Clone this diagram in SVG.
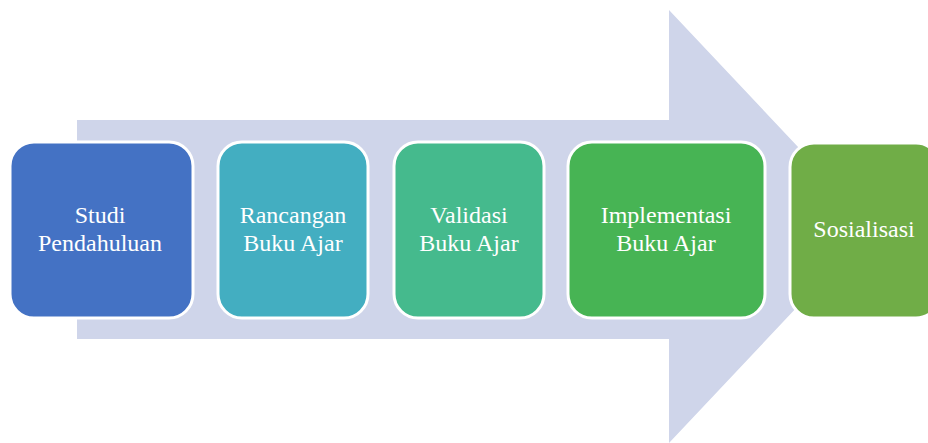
<svg xmlns="http://www.w3.org/2000/svg" width="928" height="443" viewBox="0 0 928 443">
<style>
.box{stroke:#fff;stroke-width:3}
.t{font-family:"Liberation Serif","Times New Roman",serif;font-size:24px;fill:#fff;text-anchor:middle}
</style>
<rect width="928" height="443" fill="#fff"/>
<g id="connectors">
<polygon points="77,120 669,120 669,10 873,226.5 669,443 669,339 77,339" fill="#CFD5EA"/>
</g>
<g id="n1"><rect class="box" x="10" y="142" width="183" height="176" rx="24" fill="#4472C4"/><text class="t" x="100" y="223">Studi</text><text class="t" x="100" y="251">Pendahuluan</text></g>
<g id="n2"><rect class="box" x="218" y="142" width="150" height="176" rx="24" fill="#43AEC1"/><text class="t" x="293" y="223">Rancangan</text><text class="t" x="293" y="251">Buku Ajar</text></g>
<g id="n3"><rect class="box" x="394" y="142" width="150" height="176" rx="24" fill="#45BA8D"/><text class="t" x="469" y="223">Validasi</text><text class="t" x="469" y="251">Buku Ajar</text></g>
<g id="n4"><rect class="box" x="568" y="142" width="197" height="176" rx="24" fill="#47B454"/><text class="t" x="666" y="223">Implementasi</text><text class="t" x="666" y="251">Buku Ajar</text></g>
<g id="n5"><rect class="box" x="790" y="143" width="150" height="175" rx="24" fill="#70AD47"/><text class="t" x="864" y="237">Sosialisasi</text></g>
</svg>
